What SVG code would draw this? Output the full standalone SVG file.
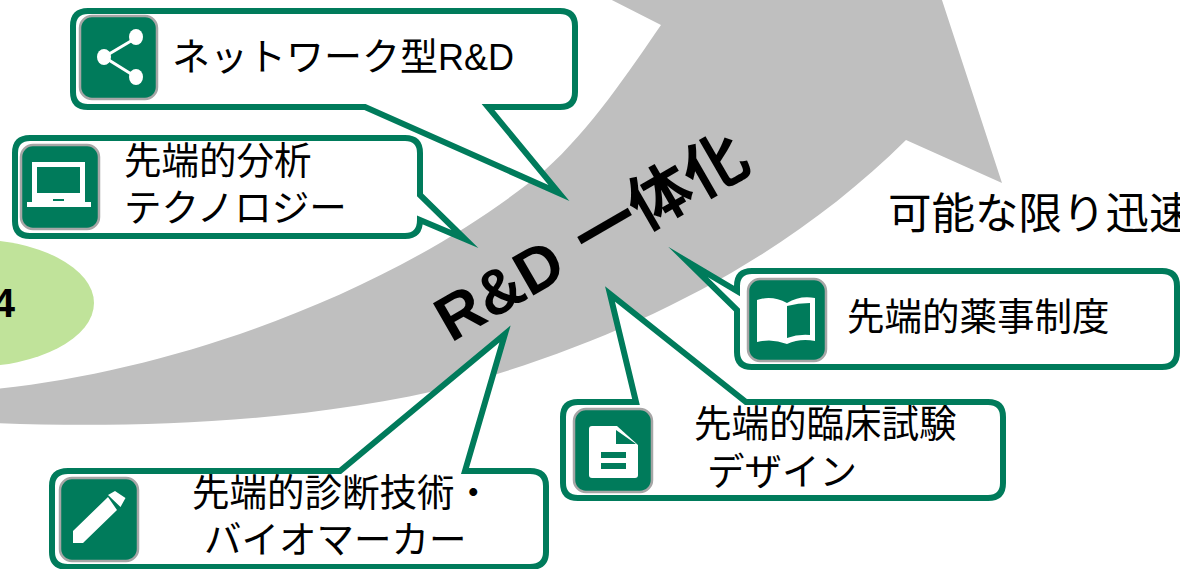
<svg xmlns="http://www.w3.org/2000/svg" width="1180" height="569" viewBox="0 0 1180 569">
<style>
text{font-family:"Liberation Sans","Noto Sans CJK JP",sans-serif;fill:#000}
.t{font-size:37.5px}
.c{fill:#fff;stroke:#007b5b;stroke-width:6;stroke-linejoin:miter;stroke-miterlimit:30}
.b{fill:#007b5b;stroke:#a6a6a6;stroke-width:2.5}
.w{fill:#fff}
.g{fill:#007b5b}
</style>
<rect width="1180" height="569" fill="#fff"/>
<g id="arrow"><path d="M-5 389C180 370 400 290 545 170C590 130 630 70 661 25L600 -6L940 -6L1002 183L906 140C780 265 620 340 460 385C300 425 120 428 -5 423Z" fill="#bfbfbf"/></g>
<g id="ellipse"><ellipse cx="-30" cy="303" rx="124" ry="64" fill="#c0e39a"/><text x="15" y="317" font-size="40" font-weight="700" text-anchor="end">4</text></g>
<text id="speed" x="888" y="229" font-size="43.500">可能な限り迅速</text>
<g id="connectors"></g>
<g id="network">
<path class="c" d="M88 11H560Q575 11 575 26V92Q575 107 560 107H488L559 193L365 107H88Q73 107 73 92V26Q73 11 88 11Z"/>
<rect class="b" x="80" y="16" width="77" height="83" rx="12"/>
<g fill="#fff" stroke="#fff"><path d="M136 38L104 57L136 77" fill="none" stroke-width="3"/><ellipse cx="136" cy="37" rx="7" ry="8" stroke="none"/><ellipse cx="104" cy="57" rx="7" ry="8" stroke="none"/><ellipse cx="136" cy="77" rx="7" ry="8" stroke="none"/></g>
<text class="t" x="172" y="70" style="font-size:38px">ネットワーク型<tspan font-size="36">R&amp;D</tspan></text>
</g>
<g id="analysis">
<path class="c" d="M30 138H405Q420 138 420 153V195L465 239L420 220Q420 236 405 236H30Q15 236 15 221V153Q15 138 30 138Z"/>
<rect class="b" x="21" y="145" width="78" height="84" rx="12"/>
<path class="w" d="M32 162H85V202H32ZM27 202H91V207H27Z"/><path class="g" d="M37 167H80V193H37ZM53 199H64V201H53Z"/>
<text class="t" x="124" y="174">先端的分析</text>
<text class="t" x="124" y="221">テクノロジー</text>
</g>
<g id="pharma">
<path class="c" d="M752 271H1162Q1177 271 1177 286V352Q1177 367 1162 367H752Q737 367 737 352V310L688 262L737 291V286Q737 271 752 271Z"/>
<rect class="b" x="748" y="279" width="78" height="82" rx="12"/>
<path class="w" d="M757 300Q772 295 787 303Q800 295 815 298V341Q800 338 787 344Q772 338 757 342Z"/><path class="g" d="M787 306Q798 303 810 303V335Q798 334 787 338Z"/>
<text class="t" x="847" y="330">先端的薬事制度</text>
</g>
<g id="trial">
<path class="c" d="M578 402H636L610 294L746 402H988Q1003 402 1003 417V483Q1003 498 988 498H578Q563 498 563 483V417Q563 402 578 402Z"/>
<rect class="b" x="574" y="409" width="78" height="83" rx="12"/>
<path class="w" d="M589 429Q589 426 592 426H617L638 445V475Q638 478 635 478H592Q589 478 589 475Z"/><path class="g" d="M616 430L636 444H616ZM601 452H626V458H601ZM601 463H626V469H601Z"/>
<text class="t" x="694" y="437">先端的臨床試験</text>
<text class="t" x="707" y="485">デザイン</text>
</g>
<g id="diagnostics">
<path class="c" d="M68 471H340L505 334L465 471H530Q546 471 546 486V552Q546 567 530 567H68Q52 567 52 552V486Q52 471 68 471Z"/>
<rect class="b" x="60" y="478" width="78" height="83" rx="12"/>
<path class="w" d="M73 543V531L108 497L117 510L83 543ZM108 495L115 491L125.500 498L120.500 507Z"/>
<text class="t" x="192" y="506">先端的診断技術・</text>
<text class="t" x="204" y="553">バイオマーカー</text>
</g>
<text id="rd" transform="translate(451 343) rotate(-30)" font-size="63" font-weight="700" word-spacing="6">R&amp;D 一体化</text>
</svg>
